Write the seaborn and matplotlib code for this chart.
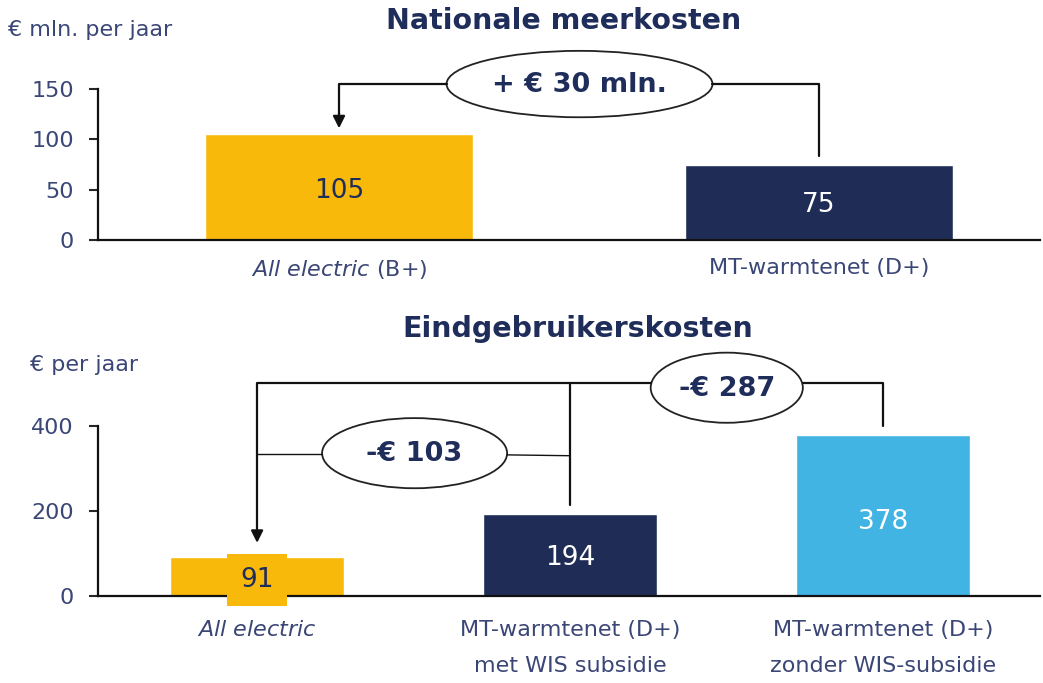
import matplotlib
matplotlib.use("Agg")
import matplotlib.pyplot as plt
import pandas as pd
import seaborn as sns
from matplotlib.patches import Ellipse

# data
top_categories = ["All electric (B+)", "MT-warmtenet (D+)"]
top_values = [105, 75]
bottom_categories = ["All electric", "MT-warmtenet (D+)\nmet WIS subsidie",
                     "MT-warmtenet (D+)\nzonder WIS-subsidie"]
bottom_values = [91, 194, 378]
top_labels = ["$\\it{All\\ electric}$ (B+)", "MT-warmtenet (D+)"]
bottom_labels = ["$\\it{All\\ electric}$", "MT-warmtenet (D+)\nmet WIS subsidie",
                 "MT-warmtenet (D+)\nzonder WIS-subsidie"]

YELLOW = "#F9B90B"
NAVY = "#1F2D56"
BLUE = "#41B4E4"
TXT = "#1F2D5A"
TICK = "#3A4676"

sns.set_style("white")
plt.rcParams["font.family"] = ["DejaVu Sans"]
plt.rcParams["mathtext.fontset"] = "dejavusans"

fig = plt.figure(figsize=(10.43, 6.83), dpi=100)
ax1 = fig.add_axes([0.094, 0.6486, 0.903, 0.2357])
ax2 = fig.add_axes([0.094, 0.1274, 0.903, 0.3236])


def style_axes(ax, ticks, ylim, xlim, labels, linespacing, pad):
    ax.set_ylim(*ylim)
    ax.set_xlim(*xlim)
    ax.set_yticks(ticks)
    ax.set_xticks(range(len(labels)))
    ax.set_xticklabels(labels, fontsize=16, color=TICK, linespacing=linespacing)
    ax.tick_params(axis="y", labelsize=16, labelcolor=TICK, length=6.5, width=1.5,
                   direction="out", left=True, pad=11)
    ax.tick_params(axis="x", length=0, pad=pad)
    for s in ["top", "right"]:
        ax.spines[s].set_visible(False)
    for s in ["left", "bottom"]:
        ax.spines[s].set_color("#111111")
        ax.spines[s].set_linewidth(1.6)
    ax.spines["left"].set_bounds(0, ticks[-1])
    ax.set_xlabel("")
    ax.set_ylabel("")


# top panel
df_top = pd.DataFrame({"cat": top_categories, "val": top_values})
sns.barplot(data=df_top, x="cat", y="val", hue="cat", palette=[YELLOW, NAVY],
            width=0.558, legend=False, ax=ax1, saturation=1)
style_axes(ax1, [0, 50, 100, 150], (0, 160), (-0.502, 1.46), top_labels, 1.2, 13)
for i, v in enumerate(top_values):
    ax1.text(i, v * 0.46, str(v), ha="center", va="center", fontsize=19,
             color=TXT if i == 0 else "white")

# top annotation
ax1.plot([1, 1, 0.778], [83, 155, 155], color="#111111", lw=1.6, clip_on=False)
ax1.plot([0.224, 0, 0], [155, 155, 125], color="#111111", lw=1.6, clip_on=False)
ax1.annotate("", xy=(0, 111), xytext=(0, 126),
             arrowprops=dict(arrowstyle="-|>", color="#111111", lw=1.6,
                             mutation_scale=18, shrinkA=0, shrinkB=0),
             annotation_clip=False)
ax1.add_patch(Ellipse((0.501, 155), 0.554, 66, facecolor="white",
                      edgecolor="#222222", lw=1.3, clip_on=False))
ax1.text(0.501, 154, "+ € 30 mln.", ha="center", va="center", fontsize=19.5,
         fontweight="bold", color=TXT)

# bottom panel
df_bot = pd.DataFrame({"cat": bottom_categories, "val": bottom_values})
sns.barplot(data=df_bot, x="cat", y="val", hue="cat", palette=[YELLOW, NAVY, BLUE],
            width=0.556, legend=False, ax=ax2, saturation=1)
style_axes(ax2, [0, 200, 400], (0, 520), (-0.508, 2.5), bottom_labels, 2.05, 17)
for i, v in enumerate(bottom_values):
    if i == 0:
        ax2.text(i, v * 0.42, str(v), ha="center", va="center", fontsize=19,
                 color=TXT, zorder=5, clip_on=False,
                 bbox=dict(boxstyle="square,pad=0.5", facecolor=YELLOW,
                           edgecolor="none"))
    else:
        ax2.text(i, v * 0.46, str(v), ha="center", va="center", fontsize=19,
                 color="white")

# bottom annotations
k = "#111111"
ax2.plot([2, 2, 1.743], [400, 501, 501], color=k, lw=1.6, clip_on=False)
ax2.plot([1.257, 0, 0], [501, 501, 140], color=k, lw=1.6, clip_on=False)
ax2.plot([1, 1], [214, 501], color=k, lw=1.6, clip_on=False)
ax2.annotate("", xy=(0, 125), xytext=(0, 142),
             arrowprops=dict(arrowstyle="-|>", color=k, lw=1.6,
                             mutation_scale=18, shrinkA=0, shrinkB=0),
             annotation_clip=False)
ax2.plot([0, 0.208], [335, 335], color=k, lw=1.0)
ax2.plot([0.798, 1], [332, 330], color=k, lw=1.0)
ax2.add_patch(Ellipse((1.5, 490), 0.486, 165, facecolor="white",
                      edgecolor="#222222", lw=1.3, clip_on=False))
ax2.text(1.5, 487, "-€ 287", ha="center", va="center", fontsize=19.5,
         fontweight="bold", color=TXT)
ax2.add_patch(Ellipse((0.503, 336), 0.591, 165, facecolor="white",
                      edgecolor="#222222", lw=1.3, clip_on=False))
ax2.text(0.503, 334, "-€ 103", ha="center", va="center", fontsize=19.5,
         fontweight="bold", color=TXT)

# titles and unit labels
fig.text(0.54, 0.969, "Nationale meerkosten", ha="center", va="center",
         fontsize=20.5, fontweight="bold", color=TXT)
fig.text(0.554, 0.518, "Eindgebruikerskosten", ha="center", va="center",
         fontsize=20.5, fontweight="bold", color=TXT)
fig.text(0.008, 0.956, "€ mln. per jaar", ha="left", va="center",
         fontsize=16, color=TICK)
fig.text(0.029, 0.466, "€ per jaar", ha="left", va="center",
         fontsize=16, color=TICK)

fig.savefig("out.png", dpi=100)
